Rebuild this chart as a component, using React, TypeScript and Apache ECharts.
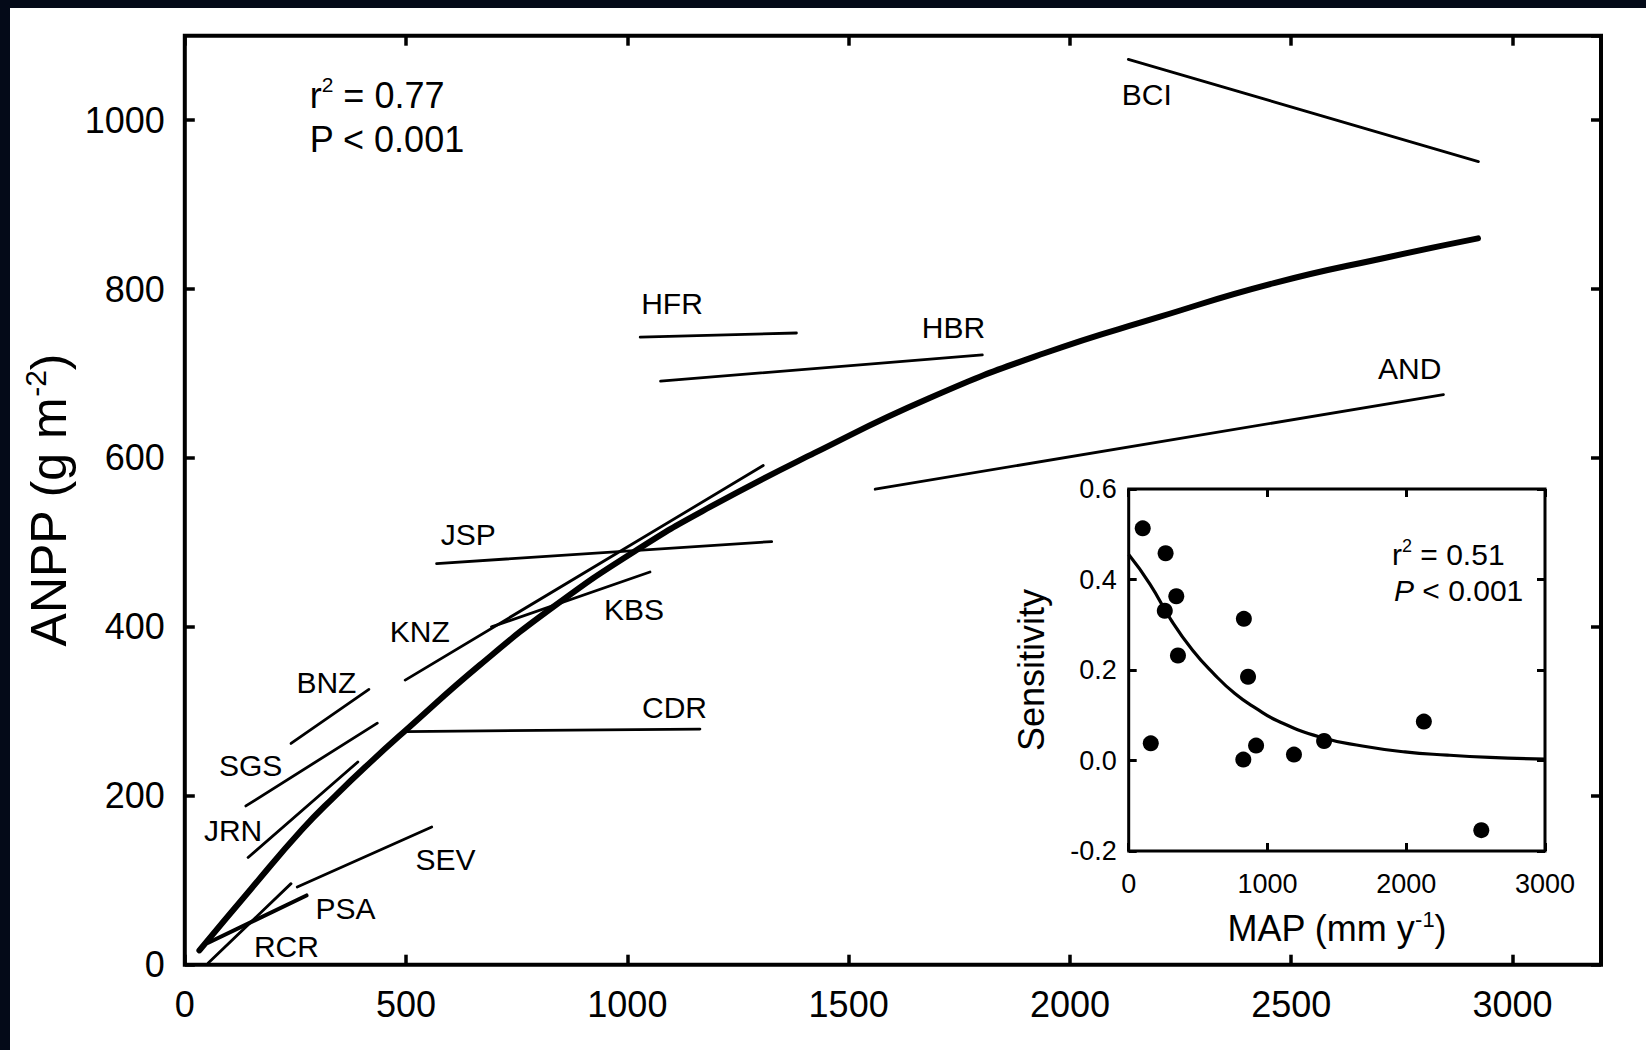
import React, { useEffect, useRef } from 'react';
import * as echarts from 'echarts';

// Main panel: regression curve of ANPP vs MAP
const curveMAP = [33, 150, 265, 340, 418, 498, 667, 836, 1021, 1187, 1423, 1683, 1942, 2202, 2461, 2721, 2922];
const curveANPP = [17, 90, 160, 200, 239, 277, 355, 425, 491, 542, 606, 671, 724, 767, 807, 838, 860];

// Site-level lines (start and end points)
const siteNames = ['BCI', 'HFR', 'HBR', 'AND', 'JSP', 'KBS', 'KNZ', 'BNZ', 'CDR', 'SGS', 'JRN', 'SEV', 'PSA', 'RCR'];
const siteStartMAP = [2132, 1029, 1075, 1560, 569, 693, 498, 240, 498, 138, 143, 254, 53, 53];
const siteStartANPP = [1072, 743, 691, 563, 475, 400, 337, 262, 276, 188, 127, 92, 26, 2];
const siteEndMAP = [2923, 1382, 1802, 2844, 1326, 1051, 1307, 416, 1164, 435, 391, 558, 275, 240];
const siteEndANPP = [951, 748, 722, 675, 501, 465, 591, 326, 279, 286, 240, 163, 82, 96];
const siteLabelMAP = [2116, 1030, 1664, 2695, 577, 946, 462, 251, 1032, 76, 42, 520, 294, 155];
const siteLabelANPP = [1030, 783, 755, 706, 509, 420, 394, 334, 305, 236, 159, 125, 67, 22];

// Inset: sensitivity vs MAP
const insetMAP = [101, 266, 343, 260, 355, 159, 830, 860, 826, 918, 1191, 1408, 2127, 2541];
const insetSens = [0.513, 0.458, 0.363, 0.331, 0.232, 0.038, 0.313, 0.185, 0.002, 0.033, 0.013, 0.043, 0.086, -0.154];
const insetCurveMAP = [0, 153, 306, 459, 612, 765, 918, 1071, 1378, 1684, 1990, 2296, 2602, 3000];
const insetCurveSens = [0.455, 0.39, 0.31, 0.244, 0.192, 0.148, 0.115, 0.088, 0.052, 0.032, 0.019, 0.012, 0.007, 0.003];

const FONT = '"Liberation Sans", Arial, Helvetica, sans-serif';

export default function App() {
  const ref = useRef<HTMLDivElement>(null);

  useEffect(() => {
    document.documentElement.style.background = '#040a18';
    document.documentElement.style.overflow = 'hidden';
    document.body.style.margin = '8px 0 0 10px';

    const chart = echarts.init(ref.current!, undefined, { renderer: 'svg' });

    const tickStyle = (len: number, w: number) => ({
      show: true,
      inside: true,
      length: len,
      lineStyle: { color: '#000', width: w },
    });
    const noLine = { show: false, onZero: false };
    const plain = (v: number) => String(v);

    const mainLabel = { fontSize: 36, color: '#000', fontFamily: FONT, formatter: plain };
    const insetLabel = { fontSize: 27, color: '#000', fontFamily: FONT };

    const siteSeries = siteNames.map((n, i) => ({
      type: 'line',
      name: n,
      xAxisIndex: 0,
      yAxisIndex: 0,
      symbol: 'none',
      silent: true,
      lineStyle: { color: '#000', width: n === 'PSA' ? 4 : 2.8, cap: 'round' },
      data: [
        [siteStartMAP[i], siteStartANPP[i]],
        [siteEndMAP[i], siteEndANPP[i]],
      ],
      z: 3,
    }));

    const option: any = {
      animation: false,
      backgroundColor: '#fff',
      textStyle: { fontFamily: FONT, color: '#000' },
      grid: [
        {
          left: 174.8, top: 27.7, width: 1416.2, height: 929,
          show: true, borderWidth: 4, borderColor: '#000', backgroundColor: 'transparent',
          containLabel: false,
        },
        {
          left: 1118.7, top: 481, width: 416.3, height: 362,
          show: true, borderWidth: 3, borderColor: '#000', backgroundColor: '#fff',
          containLabel: false,
        },
      ],
      xAxis: [
        {
          type: 'value', gridIndex: 0, position: 'bottom', min: 0, max: 3200, interval: 500,
          axisLine: noLine, splitLine: { show: false },
          axisTick: tickStyle(10, 3.5),
          axisLabel: { ...mainLabel, margin: 22, showMaxLabel: false },
        },
        {
          type: 'value', gridIndex: 0, position: 'top', min: 0, max: 3200, interval: 500,
          axisLine: noLine, splitLine: { show: false },
          axisTick: tickStyle(10, 3.5),
          axisLabel: { show: false },
        },
        {
          type: 'value', gridIndex: 1, position: 'bottom', min: 0, max: 3000, interval: 1000,
          axisLine: noLine, splitLine: { show: false },
          axisTick: tickStyle(8, 3),
          axisLabel: { ...insetLabel, margin: 19, formatter: plain },
          name: '{a|MAP (mm y}{s|-1}{a|)}',
          nameLocation: 'middle',
          nameGap: 57,
          nameTextStyle: {
            rich: {
              a: { fontSize: 36, lineHeight: 40, fontFamily: FONT, color: '#000' },
              s: { fontSize: 22, lineHeight: 16, verticalAlign: 'top', fontFamily: FONT, color: '#000' },
            },
          },
        },
        {
          type: 'value', gridIndex: 1, position: 'top', min: 0, max: 3000, interval: 1000,
          axisLine: noLine, splitLine: { show: false },
          axisTick: tickStyle(8, 3),
          axisLabel: { show: false },
        },
      ],
      yAxis: [
        {
          type: 'value', gridIndex: 0, position: 'left', min: 0, max: 1100, interval: 200,
          axisLine: noLine, splitLine: { show: false },
          axisTick: tickStyle(10, 3.5),
          axisLabel: { ...mainLabel, margin: 20, showMaxLabel: false },
          name: '{a|ANPP (g m}{s|-2}{a|)}',
          nameLocation: 'middle',
          nameGap: 105,
          nameTextStyle: {
            rich: {
              a: { fontSize: 50, lineHeight: 56, fontFamily: FONT, color: '#000' },
              s: { fontSize: 30, lineHeight: 22, verticalAlign: 'top', fontFamily: FONT, color: '#000' },
            },
          },
        },
        {
          type: 'value', gridIndex: 0, position: 'right', min: 0, max: 1100, interval: 200,
          axisLine: noLine, splitLine: { show: false },
          axisTick: tickStyle(10, 3.5),
          axisLabel: { show: false },
        },
        {
          type: 'value', gridIndex: 1, position: 'left', min: -0.2, max: 0.6, interval: 0.2,
          axisLine: noLine, splitLine: { show: false },
          axisTick: tickStyle(8, 3),
          axisLabel: { ...insetLabel, margin: 12, formatter: (v: number) => v.toFixed(1) },
          name: 'Sensitivity',
          nameLocation: 'middle',
          nameGap: 77,
          nameTextStyle: { fontSize: 36, lineHeight: 40, fontFamily: FONT, color: '#000' },
        },
        {
          type: 'value', gridIndex: 1, position: 'right', min: -0.2, max: 0.6, interval: 0.2,
          axisLine: noLine, splitLine: { show: false },
          axisTick: tickStyle(8, 3),
          axisLabel: { show: false },
        },
      ],
      graphic: [
        {
          type: 'text', x: 299.7, y: 87.5, z: 10,
          style: {
            text: '{a|r}{s|2}{a| = 0.77}',
            align: 'left', verticalAlign: 'middle',
            rich: {
              a: { fontSize: 36, lineHeight: 44, fontFamily: FONT, fill: '#000', color: '#000' },
              s: { fontSize: 21, lineHeight: 16, verticalAlign: 'top', fontFamily: FONT, fill: '#000', color: '#000' },
            },
          },
        },
        {
          type: 'text', x: 299.7, y: 131, z: 10,
          style: {
            text: 'P < 0.001', fontSize: 36, fontFamily: FONT, fill: '#000',
            align: 'left', verticalAlign: 'middle',
          },
        },
        {
          type: 'text', x: 1382, y: 546.5, z: 10,
          style: {
            text: '{a|r}{s|2}{a| = 0.51}',
            align: 'left', verticalAlign: 'middle',
            rich: {
              a: { fontSize: 30, lineHeight: 36, fontFamily: FONT, fill: '#000', color: '#000' },
              s: { fontSize: 18, lineHeight: 13, verticalAlign: 'top', fontFamily: FONT, fill: '#000', color: '#000' },
            },
          },
        },
        {
          type: 'text', x: 1384, y: 582.8, z: 10,
          style: {
            text: '{i|P}{a| < 0.001}',
            align: 'left', verticalAlign: 'middle',
            rich: {
              i: { fontSize: 30, lineHeight: 36, fontStyle: 'italic', fontFamily: FONT, fill: '#000', color: '#000' },
              a: { fontSize: 30, lineHeight: 36, fontFamily: FONT, fill: '#000', color: '#000' },
            },
          },
        },
      ],
      series: [
        {
          type: 'line',
          xAxisIndex: 0,
          yAxisIndex: 0,
          symbol: 'none',
          smooth: 0.5,
          silent: true,
          lineStyle: { color: '#000', width: 6, cap: 'round', join: 'round' },
          data: curveMAP.map((x, i) => [x, curveANPP[i]]),
          z: 4,
        },
        ...siteSeries,
        {
          type: 'scatter',
          xAxisIndex: 0,
          yAxisIndex: 0,
          symbolSize: 1,
          silent: true,
          itemStyle: { color: 'rgba(0,0,0,0)', opacity: 1 },
          data: siteLabelMAP.map((x, i) => ({ value: [x, siteLabelANPP[i]], name: siteNames[i] })),
          label: {
            show: true,
            position: 'right',
            distance: 0,
            formatter: (p: any) => p.name,
            fontSize: 30,
            fontFamily: FONT,
            color: '#000',
            opacity: 1,
          },
          z: 5,
        },
        {
          type: 'line',
          xAxisIndex: 2,
          yAxisIndex: 2,
          symbol: 'none',
          smooth: 0.5,
          silent: true,
          lineStyle: { color: '#000', width: 3.2, join: 'round' },
          data: insetCurveMAP.map((x, i) => [x, insetCurveSens[i]]),
          z: 6,
        },
        {
          type: 'scatter',
          xAxisIndex: 2,
          yAxisIndex: 2,
          symbol: 'circle',
          symbolSize: 16,
          silent: true,
          itemStyle: { color: '#000', opacity: 1 },
          data: insetMAP.map((x, i) => [x, insetSens[i]]),
          z: 7,
        },
      ],
    };

    chart.setOption(option);
    return () => chart.dispose();
  }, []);

  return <div ref={ref} style={{ width: 1636, height: 1042, background: '#fff' }} />;
}
